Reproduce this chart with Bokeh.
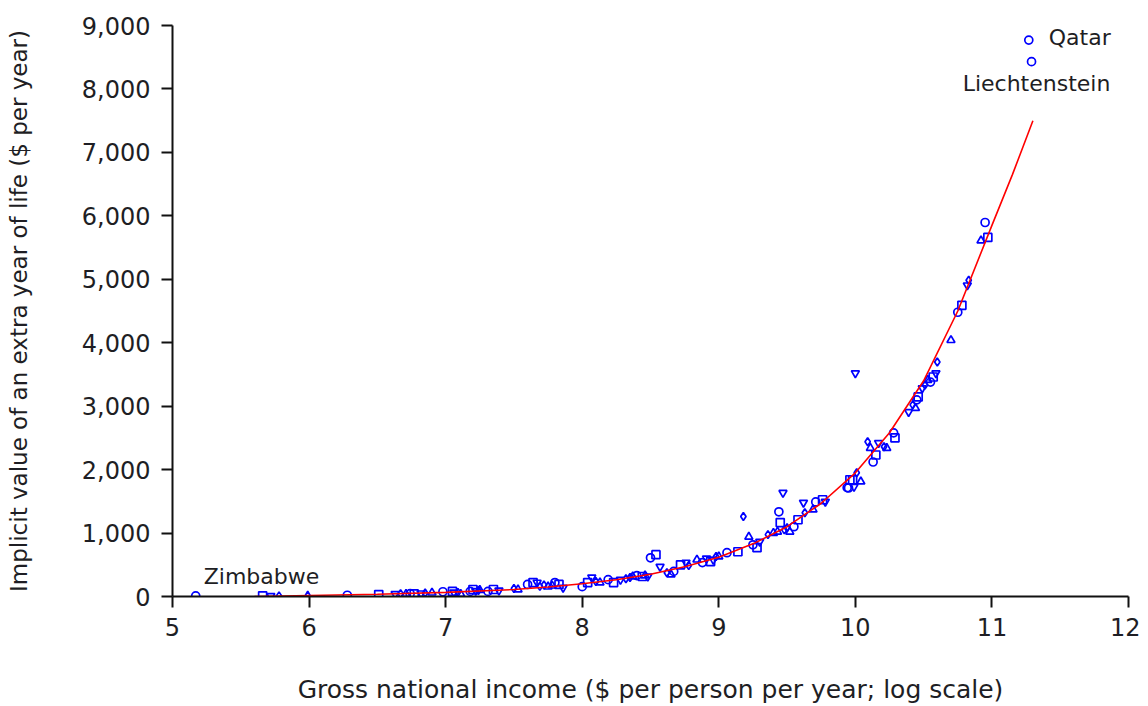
from bokeh.plotting import figure
from bokeh.models import ColumnDataSource, NumeralTickFormatter, FixedTicker, Range1d
from bokeh.core.properties import value
from bokeh.embed import file_html
from bokeh.resources import INLINE

# Country points: log GNI (x) and implicit value of extra life-year (y)
gni_log = [
    5.17, 5.66, 5.72, 5.78, 5.99, 6.28, 6.51, 6.63, 6.67, 6.71, 6.74, 6.77, 6.82, 6.85, 6.90, 6.98,
    7.05, 7.06, 7.09, 7.11, 7.18, 7.20, 7.22, 7.24, 7.25, 7.31, 7.35, 7.39, 7.50, 7.53,
    7.60, 7.64, 7.67, 7.69, 7.75, 7.80, 7.83, 7.86, 7.72, 7.78,
    8.00, 8.04, 8.07, 8.10, 8.13, 8.19, 8.23, 8.28, 8.32, 8.37, 8.40, 8.44, 8.48, 8.35, 8.46,
    8.50, 8.54,
    8.57, 8.62, 8.65, 8.67, 8.72, 8.76, 8.78, 8.84, 8.88, 8.94, 8.96, 8.98, 9.00, 9.06, 9.14, 8.91,
    9.18,
    9.22, 9.25, 9.28, 9.30, 9.36, 9.43, 9.44, 9.45, 9.47, 9.50, 9.52, 9.55, 9.58, 9.62, 9.63,
    9.69, 9.71, 9.76, 9.78, 9.48, 9.40,
    9.94, 9.96, 9.99, 10.01, 10.04, 9.95, 9.98,
    10.00,
    10.09, 10.11, 10.13, 10.15, 10.17, 10.21, 10.23, 10.28, 10.29,
    10.39, 10.42, 10.44, 10.45, 10.46, 10.49, 10.51, 10.53, 10.55, 10.57, 10.59, 10.60, 10.70,
    10.75, 10.78, 10.82, 10.83, 10.92, 10.95, 10.97,
    11.27, 11.29,
]
value_of_life = [
    10, 10, 10, 10, 10, 20, 30, 40, 45, 40, 45, 40, 50, 55, 60, 75,
    80, 65, 65, 40, 80, 110, 90, 95, 100, 80, 110, 95, 125, 110,
    190, 220, 220, 160, 155, 220, 190, 140, 180, 170,
    155, 220, 300, 235, 220, 265, 220, 265, 280, 315, 330, 315, 315, 300, 330,
    610, 660,
    470, 375, 345, 395, 500, 535, 490, 580, 535, 550, 580, 630, 630, 690, 705, 600,
    1260,
    940, 815, 770, 865, 975, 1020, 1335, 1165, 1635, 1085, 1020, 1100, 1210, 1480, 1320,
    1370, 1490, 1525, 1495, 1050, 1000,
    1715, 1840, 1730, 1950, 1810, 1710, 1840,
    3520,
    2440, 2340, 2120, 2230, 2420, 2360, 2340, 2580, 2500,
    2910, 3020, 2970, 3100, 3145, 3285, 3335, 3410, 3380, 3460, 3520, 3695, 4040,
    4480, 4590, 4905, 4985, 5610, 5895, 5660,
    8770, 8430,
]

# Fitted curve
fit_x = [5.6, 6.0, 6.5, 7.0, 7.5, 7.75, 8.0, 8.25, 8.5, 8.75, 9.0, 9.25, 9.5, 9.75,
         10.0, 10.25, 10.5, 10.75, 11.0, 11.15, 11.3]
fit_y = [0, 15, 35, 65, 110, 150, 200, 265, 350, 470, 620, 830, 1100, 1470,
         1950, 2580, 3400, 4500, 5850, 6650, 7500]

# Labelled countries
label_names = ["Qatar", "Liechtenstein", "Zimbabwe"]
label_x = [11.27, 11.29, 5.17]
label_y = [8770, 8430, 10]

x_ticks = [5, 6, 7, 8, 9, 10, 11, 12]
y_ticks = [0, 1000, 2000, 3000, 4000, 5000, 6000, 7000, 8000, 9000]

FONT = "DejaVu Sans"
TXT = "#1e1e24"

p = figure(width=1140, height=706, output_backend="svg", toolbar_location=None,
           x_range=Range1d(5, 12), y_range=Range1d(0, 9000),
           min_border_left=172, min_border_right=12, min_border_top=25, min_border_bottom=40)
p.outline_line_color = None
p.xgrid.grid_line_color = None
p.ygrid.grid_line_color = None
p.background_fill_color = "white"

shapes = ["circle", "square", "inverted_triangle", "diamond", "triangle"]
markers = [shapes[i % len(shapes)] for i in range(len(gni_log))]
markers[-1] = "circle"
markers[-2] = "circle"
src = ColumnDataSource(dict(x=gni_log, y=value_of_life, m=markers))
p.scatter("x", "y", source=src, marker="m", size=8, fill_color=None,
          line_color="#0000ff", line_width=1.7)

p.line(fit_x, fit_y, line_color="#ff0000", line_width=1.6)

offs_x = [20, 5, 8]
offs_y = [-3, 22, -19]
aligns = ["left", "center", "left"]
lsrc = ColumnDataSource(dict(x=label_x, y=label_y, t=label_names, xo=offs_x, yo=offs_y, a=aligns))
p.text("x", "y", text="t", source=lsrc, x_offset="xo", y_offset="yo", text_align="a",
       text_baseline="middle", text_font=value(FONT), text_font_size="22px", text_color=TXT)

for ax in (p.xaxis[0], p.yaxis[0]):
    ax.axis_line_width = 2
    ax.axis_line_color = "#111111"
    ax.major_tick_line_width = 2
    ax.major_tick_line_color = "#111111"
    ax.major_tick_out = 11
    ax.major_tick_in = 0
    ax.minor_tick_line_color = None
    ax.major_label_text_font = FONT
    ax.major_label_text_font_size = "24px"
    ax.major_label_text_color = TXT
    ax.axis_label_text_font = FONT
    ax.axis_label_text_font_style = "normal"
    ax.axis_label_text_color = TXT

p.xaxis.axis_label_text_font_size = "25px"
p.yaxis.axis_label_text_font_size = "23px"
p.xaxis.ticker = FixedTicker(ticks=x_ticks)
p.yaxis.ticker = FixedTicker(ticks=y_ticks)
p.yaxis.formatter = NumeralTickFormatter(format="0,0")
p.xaxis.axis_label = "Gross national income ($ per person per year; log scale)"
p.yaxis.axis_label = "Implicit value of an extra year of life ($ per year)"
p.xaxis.major_label_standoff = 10
p.yaxis.major_label_standoff = 11
p.xaxis.axis_label_standoff = 36
p.yaxis.axis_label_standoff = 47

open("out.html", "w").write(file_html(p, INLINE))
